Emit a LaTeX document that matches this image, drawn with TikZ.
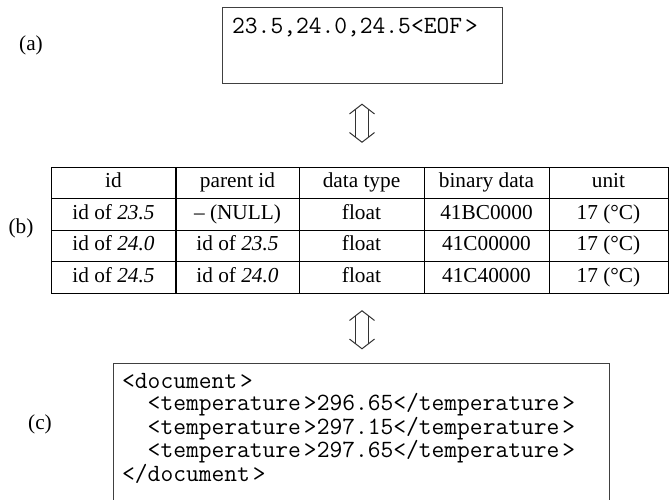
\documentclass[tikz,border=0pt]{standalone}
\usepackage{fontspec}
\setmainfont{Liberation Serif}
\usetikzlibrary{matrix, calc}

\newcommand{\tagfim}{\kern3pt>}

\begin{document}
\begin{tikzpicture}[
  x=1pt, y=-1pt,
  font=\fontsize{21.3}{25}\selectfont,
  caixa/.style={draw=black!75, line width=1pt, inner sep=0pt},
  codigo/.style={font=\ttfamily\fontsize{24.8}{22}\selectfont, inner sep=0pt, align=left},
  celula/.style={draw, line width=1pt, anchor=center, minimum height=31.5,
                 text height=15, text depth=5, inner sep=0pt},
  rotulo/.style={inner sep=0pt},
  setadupla/.pic={
    \draw[line width=1pt, black!80] (-12.5,-9.3) -- (0,-19) -- (12.5,-9.3);
    \draw[line width=1pt, black!80] (-6.5,-14) -- (-6.5,14) (6.5,-14) -- (6.5,14);
    \draw[line width=1pt, black!80] (-12.5,9.3) -- (0,19) -- (12.5,9.3);
  }
]
\useasboundingbox (0,0) rectangle (669,499);

% ---------- (a) texto CSV ----------
\node[caixa, minimum width=280, minimum height=76] (csv) at (362,45) {};
\node[codigo, anchor=west] (csvtxt) at (232,27) {23.5,24.0,24.5<EOF\tagfim};

% ---------- (b) tabela ----------
\matrix[matrix of nodes, nodes={celula}, column sep=-1pt, row sep=-1pt,
        column 1/.style={nodes={minimum width=125}},
        column 2/.style={nodes={minimum width=123}},
        column 3/.style={nodes={minimum width=125}},
        column 4/.style={nodes={minimum width=125}},
        column 5/.style={nodes={minimum width=119}}] (tab) at (359.5,230) {
  id & parent id & data type & binary data & unit \\
  id of \textit{23.5} & – (NULL) & float & 41BC0000 & 17 (°C) \\
  id of \textit{24.0} & id of \textit{23.5} & float & 41C00000 & 17 (°C) \\
  id of \textit{24.5} & id of \textit{24.0} & float & 41C40000 & 17 (°C) \\
};

% ---------- (c) XML ----------
\node[caixa, minimum width=496, minimum height=140] (xml) at (361,433) {};
\node[codigo, anchor=north west] (xmltxt) at (122,373) {%
  <document\tagfim\\
  \phantom{xx}<temperature\tagfim296.65</temperature\tagfim\\
  \phantom{xx}<temperature\tagfim297.15</temperature\tagfim\\
  \phantom{xx}<temperature\tagfim297.65</temperature\tagfim\\
  </document\tagfim};

% ---------- setas duplas ----------
\pic at ($(csv.south)!0.5!(csv.south |- tab.north)$) {setadupla};
\pic at ($(csv.south |- tab.south)!0.5!(csv.south |- xml.north)$) {setadupla};

% ---------- rotulos ----------
\node[rotulo] (rota) at (31,45)  {(a)};
\node[rotulo] (rotb) at (21,228) {(b)};
\node[rotulo] (rotc) at (40,424) {(c)};

\end{tikzpicture}
\end{document}
